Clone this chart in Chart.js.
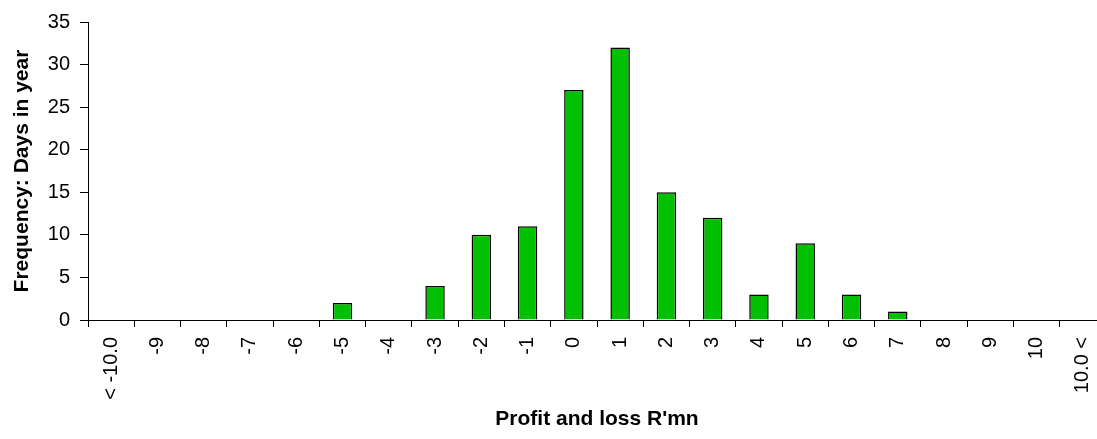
<!DOCTYPE html>
<html>
<head>
<meta charset="utf-8">
<script src="https://cdn.jsdelivr.net/npm/chart.js@4/dist/chart.umd.min.js"></script>
<style>
  html, body { margin: 0; padding: 0; background: #fff; overflow: hidden; }
  #wrap { width: 1106px; height: 439px; position: relative; }
</style>
</head>
<body>
<div id="wrap"><canvas id="histChart"></canvas></div>
<script>
// Profit and loss bins (R'mn) and the number of days in each
const bins = ['< -10.0', '-9', '-8', '-7', '-6', '-5', '-4', '-3', '-2', '-1', '0',
              '1', '2', '3', '4', '5', '6', '7', '8', '9', '10', '10.0 <'];
const days = [0, 0, 0, 0, 0, 2, 0, 4, 10, 11, 27, 32, 15, 12, 3, 9, 3, 1, 0, 0, 0, 0];
const yTicks = [0, 5, 10, 15, 20, 25, 30, 35];

const FONT = '"Liberation Sans", Arial, sans-serif';

// Draw the category labels turned to read bottom-to-top
const xLabelPlugin = {
    id: 'xLabels',
    afterDraw(chart) {
        const { ctx, scales: { x } } = chart;
        ctx.save();
        ctx.font = '20px ' + FONT;
        ctx.fillStyle = '#000';
        ctx.textAlign = 'right';
        ctx.textBaseline = 'middle';
        bins.forEach((label, i) => {
            const px = x.getPixelForTick(i);
            ctx.save();
            ctx.translate(px, x.top + 17);
            ctx.rotate(-Math.PI / 2);
            ctx.fillText(label, 0, 0);
            ctx.restore();
        });
        ctx.restore();
    }
};

new Chart(document.getElementById('histChart'), {
    type: 'bar',
    data: {
        labels: bins,
        datasets: [{
            label: 'Days',
            data: days,
            backgroundColor: '#00c000',
            borderColor: '#000',
            borderWidth: 1.5,
            borderSkipped: 'start',
            barPercentage: 0.42,
            categoryPercentage: 1
        }]
    },
    options: {
        responsive: true,
        maintainAspectRatio: false,
        animation: false,
        layout: { padding: { top: 22, left: 0, right: 0, bottom: 0 } },
        plugins: {
            legend: { display: false },
            tooltip: { enabled: false }
        },
        scales: {
            x: {
                grid: {
                    display: true,
                    drawOnChartArea: false,
                    drawTicks: true,
                    tickLength: 7,
                    color: '#000'
                },
                border: { display: true, color: '#000', width: 1 },
                ticks: { display: false },
                title: {
                    display: true,
                    text: "Profit and loss R'mn",
                    color: '#000',
                    font: { family: FONT, size: 21, weight: 'bold' },
                    padding: { top: 0, bottom: 7 }
                },
                afterFit: (scale) => { scale.height = 119; }
            },
            y: {
                min: 0,
                max: 35,
                afterBuildTicks: (scale) => { scale.ticks = yTicks.map(v => ({ value: v })); },
                grid: {
                    display: true,
                    drawOnChartArea: false,
                    drawTicks: true,
                    tickLength: 8,
                    color: '#000'
                },
                border: { display: true, color: '#000', width: 1 },
                ticks: {
                    color: '#000',
                    padding: 10,
                    font: { family: FONT, size: 20 }
                },
                title: {
                    display: true,
                    text: 'Frequency: Days in year',
                    color: '#000',
                    font: { family: FONT, size: 21, weight: 'bold' },
                    padding: { top: 10, bottom: 0 }
                },
                afterFit: (scale) => { scale.width = 88; }
            }
        }
    },
    plugins: [xLabelPlugin]
});
</script>
</body>
</html>
